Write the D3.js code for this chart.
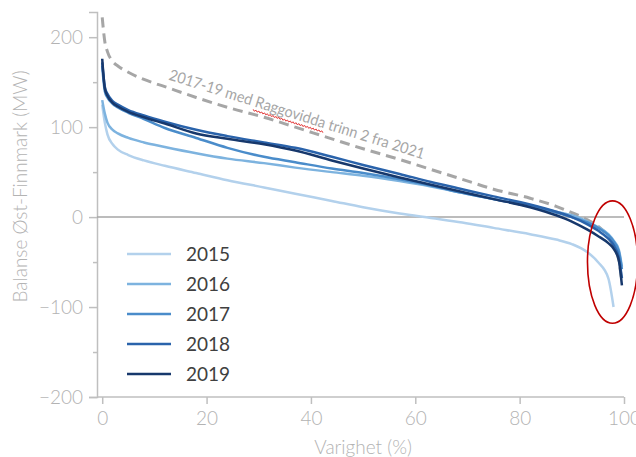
<!DOCTYPE html>
<html><head><meta charset="utf-8">
<script src="https://cdn.jsdelivr.net/npm/d3@7"></script>
<style>
body{margin:0;background:#fff;}
svg{display:block;font-family:Lato, "Open Sans", sans-serif;}
</style></head>
<body><svg id="c" width="636" height="457"></svg>
<script>
// ---- data ----
const varighet = [0, 0.5, 1, 2, 3, 5, 8, 12, 18, 24, 31, 37, 44, 50, 57, 63, 69, 75, 82, 87, 90, 93, 95, 97, 98, 99, 99.6];
const y2015 = [125,105,92,81,75,69,63,57,49,41,33,26,18,11,4,-1,-6,-12,-19,-25,-30,-39,-50,-68,-100,null,null];
const y2016 = [130,115,105,97,93,88,83,78,71,65,60,55,50,46,40,34,27,20,12,6,2,-5,-11,-19,-26,-36,-55];
const y2017 = [168,140,133,126,122,116,109,99,88,77,67,61,54,49,42,35,27,20,12,5,0,-6,-12,-20,-27,-38,-58];
const y2018 = [172,145,137,129,125,119,113,106,97,90,83,77,67,58,48,39,31,23,14,6,0,-8,-15,-24,-31,-45,-68];
const y2019 = [176,143,135,127,123,117,111,104,93,87,81,74,63,54,44,36,28,20,11,2,-5,-14,-21,-29,-35,-48,-76];
const yRaggo = [222,195,184,173,168,161,153,145,133,122,111,100,87,76,64,53,42,31,21,12,5,-3,-10,-22,-32,-48,-72];
const seriesNames = ["2015","2016","2017","2018","2019"];
const seriesValues = [y2015, y2016, y2017, y2018, y2019];
const seriesColors = ["#b3d1ec","#7db3df","#4a8cca","#2a63ab","#17386c"];
const yTicks = [-200,-100,0,100,200];
const yMinorTicks = [-150,-50,50,150];
const xTicks = [0,20,40,60,80,100];
const dashedLabel = "2017-19 med Raggovidda trinn 2 fra 2021";
const labelAnchor = {x: 12.6, y: 153, angle: 17.4};
const ellipseAnno = {x: 97.8, y: -50, rx: 4.8, ry: 68};

// ---- layout ----
const svg = d3.select("#c");
const x = d3.scaleLinear().domain([-1, 100]).range([97, 624]);
const y = d3.scaleLinear().domain([-200, 228]).range([397, 12]);
const axisGray = "#bfbfbf";
const textGray = "#b3b3b3";

// y axis
const yAxis = svg.append("g").attr("transform", `translate(${x(-1)},0)`)
  .call(d3.axisLeft(y).tickValues(yTicks).tickSize(8).tickPadding(6).tickFormat(d => d < 0 ? "\u2212" + Math.abs(d) : d));
yAxis.select(".domain").attr("stroke", axisGray).attr("stroke-width", 1.5);
yAxis.selectAll(".tick line").attr("stroke", axisGray).attr("stroke-width", 1.5);
yAxis.selectAll(".tick text").attr("fill", textGray).attr("font-size", 19).attr("font-weight", 300).attr("font-family", "Lato");
svg.append("g").attr("transform", `translate(${x(-1)},0)`)
  .call(d3.axisLeft(y).tickValues(yMinorTicks).tickSize(4).tickFormat(""))
  .call(g => { g.select(".domain").remove(); g.selectAll(".tick line").attr("stroke", axisGray).attr("stroke-width", 1.5); });

// x axis
const xAxis = svg.append("g").attr("transform", `translate(0,${y(-200)})`)
  .call(d3.axisBottom(x).tickValues(xTicks).tickSize(7).tickPadding(8));
xAxis.select(".domain").attr("stroke", axisGray).attr("stroke-width", 1.5).attr("d", `M${x(-1)},0H${x(100)}`);
xAxis.selectAll(".tick line").attr("stroke", axisGray).attr("stroke-width", 1.5);
xAxis.selectAll(".tick text").attr("fill", textGray).attr("font-size", 19).attr("font-weight", 300).attr("font-family", "Lato");

// zero line
svg.append("line").attr("x1", x(-1)).attr("x2", x(100)).attr("y1", y(0)).attr("y2", y(0))
  .attr("stroke", "#a6a6a6").attr("stroke-width", 1.5);

// axis titles
svg.append("text").attr("x", x(50)).attr("y", 454).attr("text-anchor", "middle")
  .attr("fill", textGray).attr("font-size", 19).attr("font-weight", 300).text("Varighet (%)");
svg.append("text").attr("transform", `translate(27,${(y(-200)+y(228))/2 - 18}) rotate(-90)`).attr("text-anchor", "middle")
  .attr("fill", textGray).attr("font-size", 19).attr("font-weight", 300).text("Balanse Øst-Finnmark (MW)");

// lines
const line = d3.line().defined(d => d[1] !== null).x(d => x(d[0])).y(d => y(d[1])).curve(d3.curveMonotoneX);
svg.append("path").datum(varighet.map((v, i) => [v, yRaggo[i]]))
  .attr("d", line).attr("fill", "none").attr("stroke", "#a6a6a6").attr("stroke-width", 3).attr("stroke-dasharray", "10,6");
seriesValues.forEach((vals, k) => {
  svg.append("path").datum(varighet.map((v, i) => [v, vals[i]]))
    .attr("d", line).attr("fill", "none").attr("stroke", seriesColors[k]).attr("stroke-width", 2.5).attr("stroke-linejoin", "round");
});

// dashed line label
const lg = svg.append("g").attr("transform", `translate(${x(labelAnchor.x)},${y(labelAnchor.y)}) rotate(${labelAnchor.angle})`);
const lt = lg.append("text").attr("x", 0).attr("y", 0).attr("fill", "#a6a6a6").attr("font-size", 15.5)
  .attr("textLength", 267).attr("lengthAdjust", "spacingAndGlyphs").text(dashedLabel);
const idx = dashedLabel.indexOf("Raggovidda");
try {
  const n = lt.node();
  const s = n.getStartPositionOfChar(idx).x;
  const e = n.getEndPositionOfChar(idx + "Raggovidda".length - 1).x;
  let d = `M${s},3`;
  for (let p = s, k = 0; p < e; p += 1.5, k++) d += `L${p + 1.5},${k % 2 ? 3 : 4.5}`;
  lg.append("path").attr("d", d).attr("fill", "none").attr("stroke", "#e23b3b").attr("stroke-width", 0.9);
} catch (err) {}

// legend
const leg = svg.append("g");
seriesNames.forEach((nm, k) => {
  const yy = 254 + k * 30;
  leg.append("line").attr("x1", 127).attr("x2", 171).attr("y1", yy).attr("y2", yy)
    .attr("stroke", seriesColors[k]).attr("stroke-width", 2.5);
  leg.append("text").attr("x", 186).attr("y", yy).attr("dy", "0.36em").attr("fill", "#404040")
    .attr("font-size", 19).text(nm);
});

// red ellipse annotation
svg.append("ellipse").attr("cx", x(ellipseAnno.x)).attr("cy", y(ellipseAnno.y))
  .attr("rx", x(ellipseAnno.rx) - x(0)).attr("ry", y(0) - y(ellipseAnno.ry))
  .attr("fill", "none").attr("stroke", "#c00000").attr("stroke-width", 1.6);
</script></body></html>
